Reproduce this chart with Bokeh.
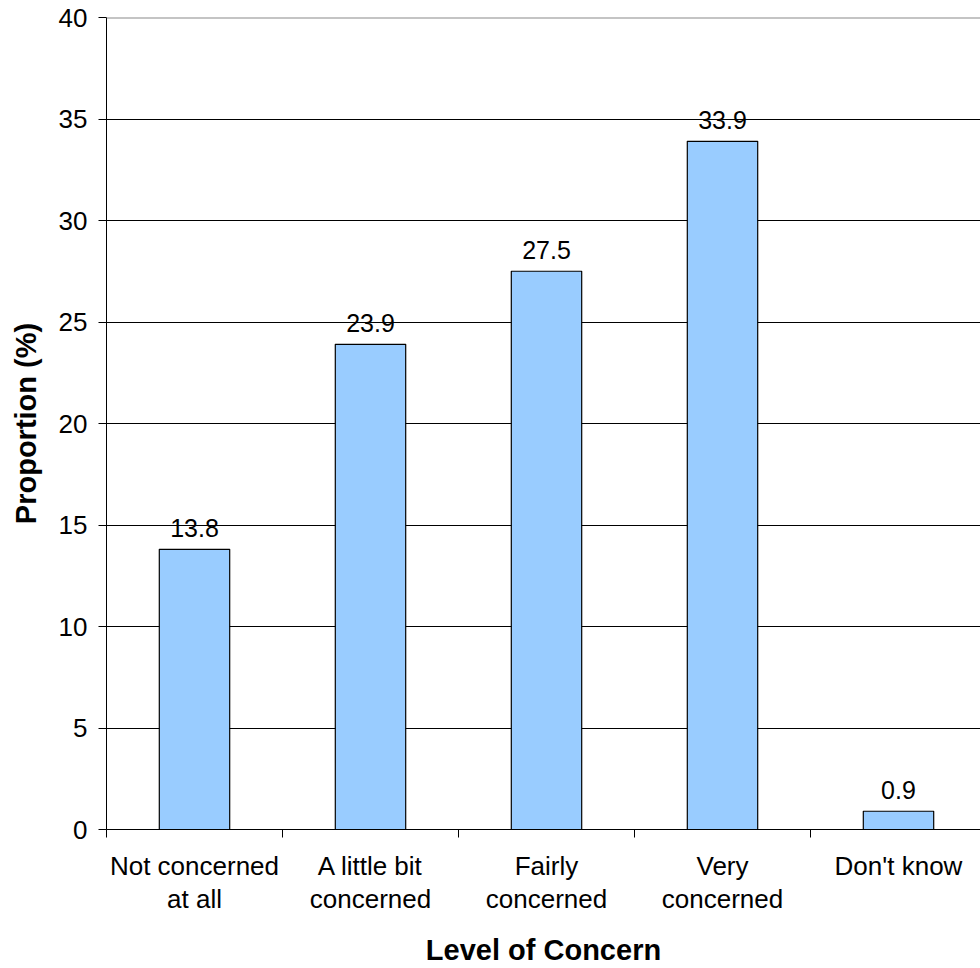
from bokeh.plotting import figure
from bokeh.models import Range1d, FixedTicker, Span, ColumnDataSource
from bokeh.core.properties import value
from bokeh.embed import file_html
from bokeh.resources import INLINE

# Survey results: level of concern
categories = ["Not concerned\nat all", "A little bit\nconcerned", "Fairly\nconcerned",
              "Very\nconcerned", "Don't know"]
proportions = [13.8, 23.9, 27.5, 33.9, 0.9]
y_ticks = [0, 5, 10, 15, 20, 25, 30, 35, 40]

FONT = "Liberation Sans"

# each category occupies a slot of 2 units; bars sit in the middle of it
slot = 2
centers = [slot * i + 1 for i in range(len(categories))]
bounds = [slot * i for i in range(len(categories) + 1)]

# the plot area runs a little past the right edge of the page
frame_left, page_w, area_w = 106, 980, 880
x_end = len(categories) * slot * (page_w - frame_left) / area_w

p = figure(width=page_w, height=968, output_backend="svg", toolbar_location=None,
           x_range=Range1d(0, x_end), y_range=Range1d(0, 40),
           min_border_left=frame_left, min_border_top=17,
           min_border_bottom=139, min_border_right=0)
p.outline_line_color = None
p.background_fill_color = "white"
p.border_fill_color = "white"

src = ColumnDataSource(dict(x=centers, top=proportions,
                            label=["%.1f" % v for v in proportions]))

# horizontal gridlines
p.xgrid.visible = False
p.ygrid.ticker = FixedTicker(ticks=y_ticks[1:-1])
p.ygrid.grid_line_color = "black"
p.ygrid.grid_line_width = 1
p.add_layout(Span(location=y_ticks[-1], dimension="width",
                  line_color="#8a8a8a", line_width=2))

p.vbar(x="x", top="top", width=0.8, source=src,
       fill_color="#99CCFF", line_color="black", line_width=1.2)

p.text(x="x", y="top", text="label", source=src,
       text_font=value(FONT), text_font_size="25px", text_color="black",
       text_align="center", text_baseline="alphabetic", y_offset=-21)

# y axis
ya = p.yaxis[0]
ya.ticker = FixedTicker(ticks=y_ticks)
ya.major_tick_out = 8
ya.major_tick_in = 0
ya.minor_tick_out = 0
ya.minor_tick_in = 0
ya.axis_line_color = "black"
ya.major_tick_line_color = "black"
ya.major_label_text_font = FONT
ya.major_label_text_font_size = "26px"
ya.major_label_text_color = "black"
ya.major_label_standoff = 11
ya.axis_label = "Proportion (%)"
ya.axis_label_text_font = FONT
ya.axis_label_text_font_size = "29px"
ya.axis_label_text_font_style = "bold"
ya.axis_label_text_color = "black"
ya.axis_label_standoff = 14

# x axis: labels at slot centres, ticks at slot boundaries
xa = p.xaxis[0]
xa.ticker = FixedTicker(ticks=centers, minor_ticks=bounds)
xa.major_label_overrides = {c: lab for c, lab in zip(centers, categories)}
xa.major_tick_out = 0
xa.major_tick_in = 0
xa.minor_tick_out = 8
xa.minor_tick_in = 0
xa.minor_tick_line_color = "black"
xa.axis_line_color = "black"
xa.major_label_text_font = FONT
xa.major_label_text_font_size = "26px"
xa.major_label_text_line_height = 1.1
xa.major_label_text_color = "black"
xa.major_label_standoff = 13
xa.axis_label = "Level of Concern"
xa.axis_label_text_font = FONT
xa.axis_label_text_font_size = "29px"
xa.axis_label_text_font_style = "bold"
xa.axis_label_text_color = "black"
xa.axis_label_standoff = 17

open("out.html", "w").write(file_html(p, INLINE))
